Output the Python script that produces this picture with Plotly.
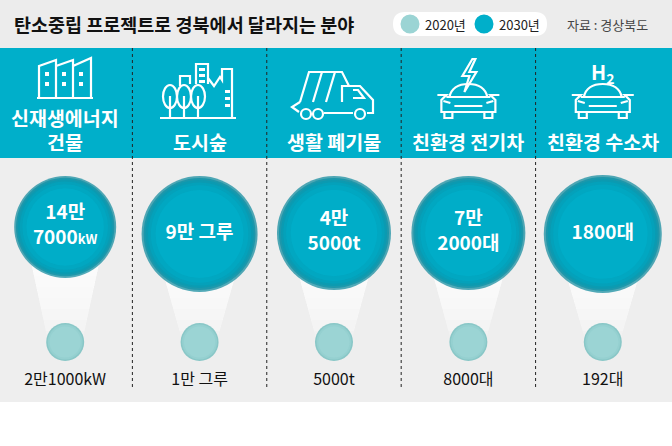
import plotly.graph_objects as go

# data
categories = ["신재생에너지<br>건물", "도시숲", "생활 폐기물", "친환경 전기차", "친환경 수소차"]
labels_2030 = ["14만<br>7000<span style='font-size:13px'>kW</span>", "9만 그루", "4만<br>5000t", "7만<br>2000대", "1800대"]
labels_2020 = ["2만1000kW", "1만 그루", "5000t", "8000대", "192대"]
years = ["2020년", "2030년"]
source = "자료 : 경상북도"
title = "탄소중립 프로젝트로 경북에서 달라지는 분야"

FONT = "Noto Sans CJK KR"
TEAL = "#00afca"
MINT = "#9bd4d4"
HEAD_BG = "#ececec"
PANEL_BG = "#eeeeee"

W, H = 672, 446
PX = W / len(categories)          # pixels per category on the x axis
idx = list(range(len(categories)))
big_size = [102, 116, 114, 114, 118]
big_y = [227, 234, 233, 233, 234]
small_y = 342


def cx(i):
    # pixel centre of a column (for the decorative icons)
    return (i + 0.485) * PX


def pp(path):
    # pixel path -> paper x / pixel y (only M L Q Z used)
    out, n = [], 0
    for t in path.split():
        if t.isalpha():
            out.append(t)
        else:
            out.append(f"{float(t) / W:.5f}" if n % 2 == 0 else t)
            n += 1
    return " ".join(out)


fig = go.Figure()

# 2030 circles: concentric rings, dark rim -> bright centre
rings = [(1.0, "#0a879b"), (0.965, "#0791a7"), (0.93, "#049bb3"),
         (0.89, "#02a4bd"), (0.84, "#00aac4"), (0.76, TEAL)]
for f, col in rings:
    fig.add_trace(go.Scatter(
        x=idx, y=big_y, mode="markers",
        marker=dict(size=[s * f for s in big_size], color=col, line=dict(width=0)),
        hoverinfo="skip", showlegend=False))

fig.add_trace(go.Scatter(
    x=idx, y=big_y, mode="text", text=labels_2030,
    textposition="middle center",
    textfont=dict(family=FONT, size=19, color="white", weight="bold"),
    hoverinfo="skip", showlegend=False))

# 2020 circles
for f, col in [(1.0, "#89c7c7"), (0.92, "#95d0d0"), (0.82, MINT)]:
    fig.add_trace(go.Scatter(
        x=idx, y=[small_y] * len(idx), mode="markers",
        marker=dict(size=38 * f, color=col, line=dict(width=0)),
        hoverinfo="skip", showlegend=False))

# 2020 labels
fig.add_trace(go.Scatter(
    x=idx, y=[381] * len(idx), mode="text", text=labels_2020,
    textposition="middle center",
    textfont=dict(family=FONT, size=16, color="#111111"),
    hoverinfo="skip", showlegend=False))

shapes = [
    dict(type="rect", xref="paper", yref="y", x0=0, x1=1, y0=0, y1=48,
         fillcolor=HEAD_BG, line_width=0, layer="below"),
    dict(type="rect", xref="paper", yref="y", x0=0, x1=1, y0=48, y1=158,
         fillcolor=TEAL, line_width=0, layer="below"),
    dict(type="rect", xref="paper", yref="y", x0=0, x1=1, y0=158, y1=402,
         fillcolor=PANEL_BG, line_width=0, layer="below"),
    # legend pill
    dict(type="path", xref="paper", yref="y",
         path=pp("M 405 12 L 535 12 Q 547 12 547 24 Q 547 36 535 36 L 405 36 Q 393 36 393 24 Q 393 12 405 12 Z"),
         fillcolor="white", line_width=0, layer="below"),
    dict(type="circle", xref="paper", yref="y", x0=400.5 / W, x1=419.5 / W, y0=14.5, y1=33.5,
         fillcolor=MINT, line_width=0),
    dict(type="circle", xref="paper", yref="y", x0=474.5 / W, x1=493.5 / W, y0=14.5, y1=33.5,
         fillcolor=TEAL, line_width=0),
]

# light cone under each pair of circles: stacked translucent layers
for i, d, yc in zip(idx, big_size, big_y):
    top = 0.82 * d / 2 / PX
    bot = 17 / PX
    for k in range(7):
        yb = small_y - 11 * k
        t = (yb - yc) / (small_y - yc)
        half = top + (bot - top) * t
        shapes.append(dict(
            type="path", xref="x", yref="y", layer="below",
            path=f"M {i - top} {yc} L {i + top} {yc} L {i + half} {yb} L {i - half} {yb} Z",
            fillcolor="rgba(255,255,255,0.22)", line_width=0))

# dotted dividers
for i in idx[:-1]:
    shapes.append(dict(type="line", xref="x", yref="y", x0=i + 0.5, x1=i + 0.5,
                       y0=48, y1=388, line=dict(color="#222222", width=1, dash="dot"),
                       layer="below"))

WHITE_LINE = dict(color="white", width=2.2)


def icon(path):
    return dict(type="path", xref="paper", yref="y", path=pp(path), line=WHITE_LINE)


def box(x0, x1, y0, y1, kind="rect", filled=True):
    d = dict(type=kind, xref="paper", yref="y", x0=x0 / W, x1=x1 / W, y0=y0, y1=y1)
    if filled:
        d.update(fillcolor="white", line_width=0)
    else:
        d.update(line=WHITE_LINE)
    return d


# icon 1: buildings
shapes.append(icon(
    "M 39 98 L 39 66 L 56 60 L 56 98 M 56 66 L 73 60 L 73 98 "
    "M 73 66 L 91 58 L 91 98 M 37 98 L 93 98"))
for bx in [45, 62, 79]:
    for wy in [72, 82]:
        shapes.append(box(bx, bx + 4, wy, wy + 4))

# icon 2: city forest
shapes.append(icon(
    "M 160 118 L 236 118 "
    "M 180 86 L 180 76 L 190 76 L 190 84 "
    "M 196 84 L 196 64 L 208 64 L 208 84 "
    "M 208 78 L 214 86 L 220 77 L 222 80 L 222 69 L 232 69 L 232 118 "
    "M 170 118 L 170 96 M 184 118 L 184 96 M 198 118 L 198 96"))
for tx in [163, 177, 191]:
    shapes.append(box(tx, tx + 14, 85, 108, kind="circle", filled=False))
for wy in [68, 74, 80]:
    shapes.append(box(199, 205, wy, wy + 3))
for wy in [90, 97, 104]:
    shapes.append(box(225, 230, wy, wy + 3))

# icon 3: garbage truck
shapes.append(icon(
    "M 300 102 L 309 72 L 342 72 L 349 86 "
    "M 313 102 L 322 72 M 326 102 L 335 72 "
    "M 300 102 L 292 107 L 299 112 "
    "M 342 102 L 342 86 L 360 86 L 373 100 L 373 113 L 367 113 "
    "M 353 90 L 358 90 L 364 98 L 353 98 "
    "M 324 113 L 353 113"))
for wx in [306, 318, 360]:
    shapes.append(box(wx - 5, wx + 5, 109, 119, kind="circle", filled=False))


def car(c):
    return (f"M {c-19} 97 Q {c-16} 84 {c} 84 Q {c+16} 84 {c+19} 97 "
            f"M {c-31} 95 L {c-22} 95 L {c-27} 100 L {c-27} 112 L {c+27} 112 "
            f"L {c+27} 100 L {c+22} 95 L {c+31} 95 M {c-22} 97 L {c+22} 97 "
            f"M {c-14} 106 L {c+14} 106 "
            f"M {c-24} 112 L {c-24} 118 L {c-16} 118 L {c-16} 112 "
            f"M {c+16} 112 L {c+16} 118 L {c+24} 118 L {c+24} 112 "
            f"M {c-25} 101 L {c-18} 103 M {c+25} 101 L {c+18} 103")


c4, c5 = cx(3), cx(4)
shapes.append(icon(car(c4)))
shapes.append(icon(
    f"M {c4+4} 59 L {c4-6} 76 L {c4+1} 76 L {c4-4} 92 L {c4+8} 72 "
    f"L {c4+1} 72 L {c4+7} 59 Z"))
shapes.append(icon(car(c5)))


def note(text, x, y, size, color, anchor="left"):
    return dict(text=text, x=x / W, y=y, xref="paper", yref="y",
                xanchor=anchor, yanchor="middle", showarrow=False,
                font=dict(family=FONT, size=size, color=color))


annotations = [
    note(f"<b>{title}</b>", 12, 24, 18.5, "#111111"),
    note(years[0], 423, 24, 13, "#222222"),
    note(years[1], 497, 24, 13, "#222222"),
    note(source, 565, 24, 13, "#444444"),
    note("<b>H<sub>2</sub></b>", c5, 72, 20, "white", anchor="center"),
]
# category names, one annotation per line so lines sit on the band's baseline
for i, name in zip(idx, categories):
    lines = name.split("<br>")
    for j, line in enumerate(lines):
        annotations.append(dict(text=f"<b>{line}</b>", x=i, y=141 - 24 * (len(lines) - 1 - j),
                                xref="x", yref="y", xanchor="center", yanchor="middle",
                                showarrow=False,
                                font=dict(family=FONT, size=19.5, color="white")))

fig.update_layout(
    width=W, height=H,
    margin=dict(l=0, r=0, t=0, b=0),
    paper_bgcolor="white", plot_bgcolor="rgba(0,0,0,0)",
    xaxis=dict(range=[-0.485, len(categories) - 0.485], visible=False, fixedrange=True),
    yaxis=dict(range=[H, 0], visible=False, fixedrange=True),
    shapes=shapes, annotations=annotations,
    showlegend=False,
)

fig.write_html("out.html", config={"displayModeBar": False},
               post_script="document.body.style.margin='0px';")
